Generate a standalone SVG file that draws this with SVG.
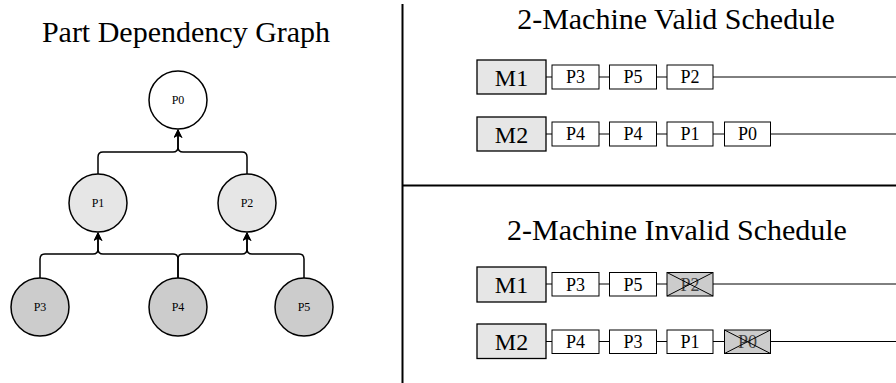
<svg xmlns="http://www.w3.org/2000/svg" width="896" height="383" viewBox="0 0 896 383" font-family="'Liberation Serif', Tinos, 'Times New Roman', 'Nimbus Roman', 'DejaVu Serif', serif">
<style>
text{font-family:"Liberation Serif",Tinos,"Times New Roman","Nimbus Roman","DejaVu Serif",serif;text-anchor:middle}
.title{font-size:30px;fill:#000}
.node{stroke:#000;stroke-width:1.5}
.nlabel{font-size:12px;fill:#000}
.conn{fill:none;stroke:#000;stroke-width:1.5}
.mach{fill:#e6e6e6;stroke:#000;stroke-width:1.3}
.mlabel{font-size:24px;fill:#000}
.job{fill:#fff;stroke:#000;stroke-width:1}
.bad{fill:#cccccc;stroke:#000;stroke-width:1}
.jlabel{font-size:18px;fill:#000}
.blabel{font-size:18px;fill:#444}
.cross{stroke:#000;stroke-width:1}
.track{stroke:#000;stroke-width:1;fill:none}
.div{stroke:#000;stroke-width:2}
</style>
<defs>
<marker id="arr" viewBox="0 0 10 10" refX="9" refY="5" markerWidth="9" markerHeight="9" markerUnits="userSpaceOnUse" orient="auto">
<path d="M0,0 L10,5 L0,10 L3,5 Z" fill="#000"/>
</marker>
</defs>
<rect width="896" height="383" fill="#fff"/>
<line class="div" x1="402.5" y1="4" x2="402.5" y2="383"/>
<line class="div" x1="402.5" y1="185.5" x2="896" y2="185.5"/>
<text class="title" x="186" y="42">Part Dependency Graph</text>
<text class="title" x="676" y="29">2-Machine Valid Schedule</text>
<text class="title" x="677" y="240">2-Machine Invalid Schedule</text>
<g id="connectors">
<path class="conn" d="M98,174 V157 Q98,152 103,152 H173 Q178,152 178,147 V130" marker-end="url(#arr)"/>
<path class="conn" d="M247,174 V157 Q247,152 242,152 H183 Q178,152 178,147 V130" marker-end="url(#arr)"/>
<path class="conn" d="M40,278 V259 Q40,254 45,254 H93 Q98,254 98,249 V233" marker-end="url(#arr)"/>
<path class="conn" d="M178,278 V259 Q178,254 173,254 H103 Q98,254 98,249 V233" marker-end="url(#arr)"/>
<path class="conn" d="M178,278 V259 Q178,254 183,254 H242 Q247,254 247,249 V233" marker-end="url(#arr)"/>
<path class="conn" d="M304,278 V259 Q304,254 299,254 H252 Q247,254 247,249 V233" marker-end="url(#arr)"/>
</g>
<g id="P0"><circle class="node" cx="178" cy="100" r="29" fill="#fff"/><text class="nlabel" x="178" y="104">P0</text></g>
<g id="P1"><circle class="node" cx="98" cy="203" r="29" fill="#e6e6e6"/><text class="nlabel" x="98" y="207">P1</text></g>
<g id="P2"><circle class="node" cx="247" cy="203" r="29" fill="#e6e6e6"/><text class="nlabel" x="247" y="207">P2</text></g>
<g id="P3"><circle class="node" cx="40" cy="307" r="29" fill="#cccccc"/><text class="nlabel" x="40" y="311">P3</text></g>
<g id="P4"><circle class="node" cx="178" cy="307" r="29" fill="#cccccc"/><text class="nlabel" x="178" y="311">P4</text></g>
<g id="P5"><circle class="node" cx="304" cy="307" r="29" fill="#cccccc"/><text class="nlabel" x="304" y="311">P5</text></g>

<g id="valid-M1">
<line class="track" x1="546" y1="77" x2="896" y2="77"/>
<rect class="mach" x="477" y="60" width="69" height="34"/><text class="mlabel" x="511.5" y="85.5">M1</text>
<rect class="job" x="552" y="65" width="47" height="24"/><text class="jlabel" x="575.5" y="83">P3</text>
<rect class="job" x="609.5" y="65" width="47" height="24"/><text class="jlabel" x="633" y="83">P5</text>
<rect class="job" x="667" y="65" width="46" height="24"/><text class="jlabel" x="690" y="83">P2</text>
</g>
<g id="valid-M2">
<line class="track" x1="546" y1="134" x2="896" y2="134"/>
<rect class="mach" x="477" y="117" width="69" height="34"/><text class="mlabel" x="511.5" y="142.5">M2</text>
<rect class="job" x="552" y="122" width="47" height="24"/><text class="jlabel" x="575.5" y="140">P4</text>
<rect class="job" x="609.5" y="122" width="47" height="24"/><text class="jlabel" x="633" y="140">P4</text>
<rect class="job" x="667" y="122" width="46" height="24"/><text class="jlabel" x="690" y="140">P1</text>
<rect class="job" x="724.5" y="122" width="46" height="24"/><text class="jlabel" x="747.5" y="140">P0</text>
</g>
<g id="invalid-M1">
<line class="track" x1="546" y1="284" x2="896" y2="284"/>
<rect class="mach" x="477" y="267" width="69" height="35"/><text class="mlabel" x="511.5" y="293">M1</text>
<rect class="job" x="552" y="272.5" width="47" height="23.5"/><text class="jlabel" x="575.5" y="290.5">P3</text>
<rect class="job" x="609.5" y="272.5" width="47" height="23.5"/><text class="jlabel" x="633" y="290.5">P5</text>
<rect class="bad" x="667" y="272.5" width="46" height="23.5"/><text class="blabel" x="690" y="290.5">P2</text>
<path class="cross" d="M667,272.5 L713,296 M713,272.5 L667,296"/>
</g>
<g id="invalid-M2">
<line class="track" x1="546" y1="341.5" x2="896" y2="341.5"/>
<rect class="mach" x="477" y="324" width="69" height="34.5"/><text class="mlabel" x="511.5" y="350">M2</text>
<rect class="job" x="552" y="330" width="47" height="23.5"/><text class="jlabel" x="575.5" y="348">P4</text>
<rect class="job" x="609.5" y="330" width="47" height="23.5"/><text class="jlabel" x="633" y="348">P3</text>
<rect class="job" x="667" y="330" width="46" height="23.5"/><text class="jlabel" x="690" y="348">P1</text>
<rect class="bad" x="724.5" y="330" width="46" height="23.5"/><text class="blabel" x="747.5" y="348">P0</text>
<path class="cross" d="M724.5,330 L770.5,353.5 M770.5,330 L724.5,353.5"/>
</g>
</svg>
